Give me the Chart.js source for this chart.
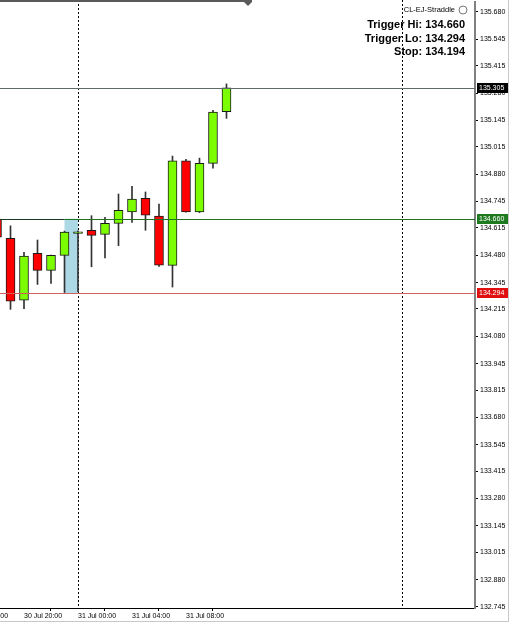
<!DOCTYPE html>
<html lang="en">
<head>
  <meta charset="UTF-8">
  <title>CL-EJ-Straddle</title>
  <style>
    html, body {
      margin: 0;
      padding: 0;
      background: #fff;
    }
    .chart-box {
      position: relative;
      width: 511px;
      height: 625px;
    }
  </style>
  <script src="https://cdn.jsdelivr.net/npm/chart.js"></script>
</head>
<body>
  <div class="chart-box">
    <canvas id="priceChart" width="511" height="625"></canvas>
  </div>

  <script>
    // H1 bars, x = hours counted from 30 Jul 00:00
    const hours  = [18, 19, 20, 21, 22, 23, 24, 25, 26, 27, 28, 29, 30, 31, 32, 33, 34, 35];
    const opens  = [134.658, 134.563, 134.258, 134.489, 134.405, 134.479, 134.588, 134.603, 134.583, 134.637, 134.694, 134.761, 134.673, 134.430, 134.945, 134.694, 134.933, 135.188];
    const highs  = [134.680, 134.625, 134.494, 134.555, 134.481, 134.599, 134.600, 134.675, 134.667, 134.782, 134.820, 134.792, 134.732, 134.969, 134.953, 134.959, 135.195, 135.325];
    const lows   = [134.550, 134.213, 134.216, 134.336, 134.341, 134.296, 134.300, 134.423, 134.467, 134.527, 134.642, 134.603, 134.425, 134.323, 134.692, 134.690, 134.909, 135.155];
    const closes = [134.569, 134.254, 134.476, 134.405, 134.479, 134.594, 134.596, 134.578, 134.637, 134.701, 134.757, 134.678, 134.431, 134.945, 134.693, 134.933, 135.186, 135.306];

    const yTicks = [135.680, 135.545, 135.415, 135.280, 135.145, 135.015, 134.880, 134.745, 134.615, 134.480, 134.345, 134.215,
                    134.080, 133.945, 133.815, 133.680, 133.545, 133.415, 133.280, 133.145, 133.015, 132.880, 132.745];
    const xTickHours  = [16, 20, 24, 28, 32];
    const xTickLabels = ['30 Jul 16:00', '30 Jul 20:00', '31 Jul 00:00', '31 Jul 04:00', '31 Jul 08:00'];

    const triggerHi = 134.660;
    const triggerLo = 134.294;
    const stopLevel = 134.194;
    const lastPrice = 135.305;
    const daySeparators = [24, 48];
    const rangeBox = [23, 24];

    const smallFont = { family: 'Liberation Sans', size: 7 };

    // background objects: range box + period separators
    const backdrop = {
      id: 'backdrop',
      beforeDatasetsDraw(chart) {
        const { ctx, chartArea, scales: { x, y } } = chart;
        ctx.save();
        ctx.fillStyle = '#add8e6';
        const bx0 = x.getPixelForValue(rangeBox[0]);
        const bx1 = x.getPixelForValue(rangeBox[1]);
        const by0 = y.getPixelForValue(triggerHi);
        const by1 = y.getPixelForValue(triggerLo);
        ctx.fillRect(bx0, by0, bx1 - bx0, by1 - by0);

        ctx.strokeStyle = '#000';
        ctx.lineWidth = 1;
        ctx.setLineDash([2, 2]);
        daySeparators.forEach(h => {
          const px = Math.round(x.getPixelForValue(h)) + 0.5;
          ctx.beginPath();
          ctx.moveTo(px, 0);
          ctx.lineTo(px, chartArea.bottom);
          ctx.stroke();
        });
        ctx.restore();
      }
    };

    // horizontal levels, axis price tags, header text
    const overlay = {
      id: 'overlay',
      afterDatasetsDraw(chart) {
        const { ctx, chartArea, scales: { x, y } } = chart;
        const hline = (v, color, from, to) => {
          const py = Math.round(y.getPixelForValue(v)) + 0.5;
          ctx.strokeStyle = color;
          ctx.beginPath();
          ctx.moveTo(from, py);
          ctx.lineTo(to, py);
          ctx.stroke();
        };
        ctx.save();
        ctx.lineWidth = 1;
        const boxLeft = x.getPixelForValue(rangeBox[0]);
        hline(lastPrice, '#5f6b6b', chartArea.left, chartArea.right);
        hline(triggerHi, '#1f701f', boxLeft, chartArea.right);
        hline(triggerHi, '#1c3a1c', chartArea.left, boxLeft);
        hline(triggerLo, '#d06060', chartArea.left, chartArea.right);
        ctx.restore();
      },
      afterDraw(chart) {
        const { ctx, chartArea, scales: { y } } = chart;
        ctx.save();

        // price tags on the axis
        const tags = [[lastPrice, '#000000'], [triggerHi, '#1e7a1e'], [triggerLo, '#e01010']];
        ctx.font = '7px "Liberation Sans"';
        ctx.textBaseline = 'middle';
        ctx.textAlign = 'left';
        tags.forEach(([v, bg]) => {
          const py = Math.round(y.getPixelForValue(v));
          ctx.fillStyle = bg;
          ctx.fillRect(chartArea.right + 2, py - 5, 31, 10);
          ctx.fillStyle = '#fff';
          ctx.fillText(v.toFixed(3), chartArea.right + 4, py);
        });

        // top border + shift marker
        ctx.fillStyle = '#5a5a5a';
        ctx.fillRect(0, 0, 252, 2);
        ctx.beginPath();
        ctx.moveTo(244, 2);
        ctx.lineTo(252, 2);
        ctx.lineTo(248, 6);
        ctx.closePath();
        ctx.fill();

        // window frame
        ctx.fillStyle = '#c8c8c8';
        ctx.fillRect(508, 0, 1, 622);
        ctx.fillRect(0, 621, 509, 1);

        // indicator name + icon
        ctx.fillStyle = '#000';
        ctx.font = '7.5px "Liberation Sans"';
        ctx.textAlign = 'right';
        ctx.fillText('CL-EJ-Straddle', 455, 10);
        ctx.strokeStyle = '#777';
        ctx.beginPath();
        ctx.arc(463, 10, 4, 0, Math.PI * 2);
        ctx.stroke();

        // straddle levels
        ctx.font = 'bold 11px "Liberation Sans"';
        ctx.fillText('Trigger Hi: ' + triggerHi.toFixed(3), 465, 25);
        ctx.fillText('Trigger Lo: ' + triggerLo.toFixed(3), 465, 39);
        ctx.fillText('Stop: ' + stopLevel.toFixed(3), 465, 52);
        ctx.restore();
      }
    };

    const ctx = document.getElementById('priceChart').getContext('2d');
    new Chart(ctx, {
      type: 'bar',
      data: {
        datasets: [
          {
            label: 'Body',
            data: hours.map((h, i) => ({ x: h, y: [opens[i], closes[i]] })),
            backgroundColor: hours.map((h, i) => closes[i] >= opens[i] ? '#7cfc00' : '#ff0000'),
            borderColor: '#1a1a1a',
            borderWidth: 1,
            borderSkipped: false,
            barThickness: 9,
            grouped: false
          },
          {
            label: 'Wick',
            data: hours.map((h, i) => ({ x: h, y: [lows[i], highs[i]] })),
            backgroundColor: '#333',
            borderWidth: 0,
            barThickness: 1,
            grouped: false
          }
        ]
      },
      options: {
        responsive: false,
        animation: false,
        devicePixelRatio: 1,
        layout: { padding: { top: 2, left: 0, right: 0, bottom: 0 } },
        plugins: {
          legend: { display: false },
          tooltip: { enabled: false }
        },
        scales: {
          x: {
            type: 'linear',
            position: 'bottom',
            min: 18.222,
            max: 53.41,
            offset: false,
            afterBuildTicks: s => { s.ticks = xTickHours.map(v => ({ value: v })); },
            afterFit: s => { s.height = 17; s.paddingLeft = 0; s.paddingRight = 0; },
            ticks: {
              autoSkip: false,
              maxRotation: 0,
              align: 'start',
              padding: 1,
              color: '#000',
              font: smallFont,
              callback: (v, i) => xTickLabels[i]
            },
            grid: { drawOnChartArea: false, tickLength: 3, color: '#000' },
            border: { color: '#000', width: 1 }
          },
          y: {
            position: 'right',
            min: 132.740,
            max: 135.729,
            afterBuildTicks: s => { s.ticks = yTicks.map(v => ({ value: v })); },
            afterFit: s => { s.width = 36; s.paddingTop = 0; s.paddingBottom = 0; },
            ticks: {
              autoSkip: false,
              padding: 2,
              color: '#000',
              font: smallFont,
              callback: v => v.toFixed(3)
            },
            grid: { drawOnChartArea: false, tickLength: 3, color: '#000' },
            border: { color: '#808080', width: 2 }
          }
        }
      },
      plugins: [backdrop, overlay]
    });
  </script>
</body>
</html>
